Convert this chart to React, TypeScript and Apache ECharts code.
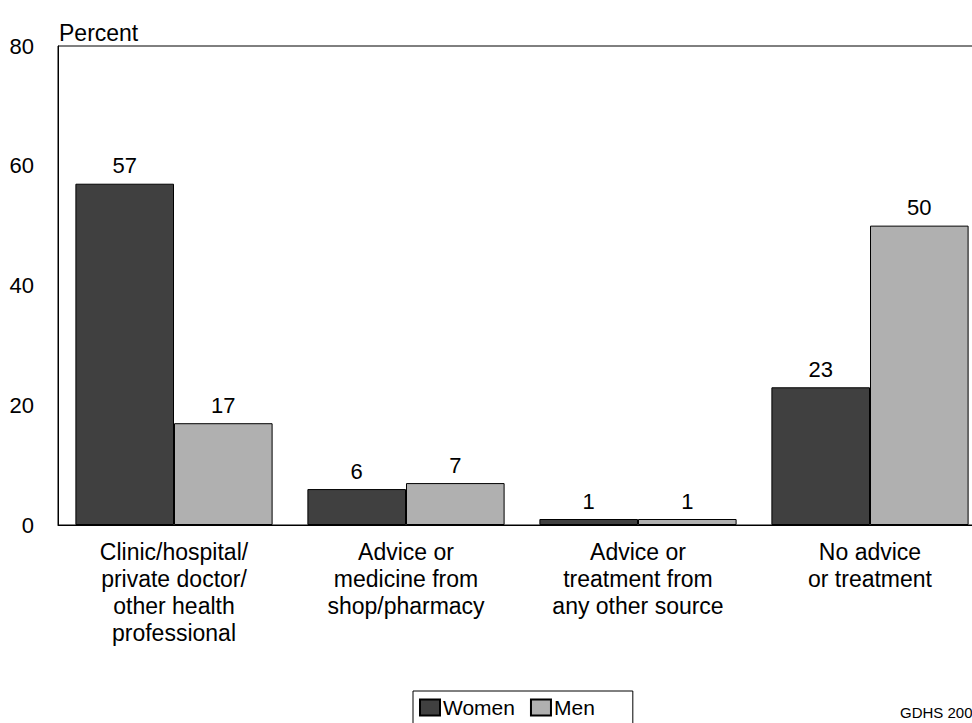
import React, { useEffect, useRef } from "react";
import * as echarts from "echarts";

const categories = [
  "Clinic/hospital/\nprivate doctor/\nother health\nprofessional",
  "Advice or\nmedicine from\nshop/pharmacy",
  "Advice or\ntreatment from\nany other source",
  "No advice\nor treatment",
];
const women = [57, 6, 1, 23];
const men = [17, 7, 1, 50];
const seriesNames = ["Women", "Men"];
const yMin = 0;
const yMax = 80;
const yInterval = 20;
const source = "GDHS 2003";
const yTitle = "Percent";

const FONT = "'Liberation Sans', Arial, Helvetica, sans-serif";

export default function App() {
  const ref = useRef<HTMLDivElement>(null);
  useEffect(() => {
    if (!ref.current) return;
    const chart = echarts.init(ref.current, undefined, { renderer: "svg" });
    const labelCfg = {
      show: true,
      position: "top",
      distance: 7,
      color: "#000",
      fontSize: 22,
      fontFamily: FONT,
    };
    chart.setOption({
      animation: false,
      backgroundColor: "#fff",
      textStyle: { fontFamily: FONT, color: "#000" },
      title: {
        text: yTitle,
        left: 59,
        top: 21,
        padding: 0,
        textStyle: { fontSize: 23, fontWeight: "normal", color: "#000", fontFamily: FONT },
      },
      grid: {
        left: 58,
        top: 46,
        width: 928,
        height: 479,
        show: true,
        borderColor: "#000",
        borderWidth: 1,
        backgroundColor: "transparent",
        containLabel: false,
        outerBoundsMode: "none",
      },
      legend: {
        left: 413,
        top: 691,
        orient: "horizontal",
        borderColor: "#000",
        borderWidth: 1,
        padding: [6, 38, 10, 6],
        itemWidth: 20,
        itemHeight: 16,
        itemGap: 15,
        icon: "rect",
        textStyle: { fontSize: 21, color: "#000", fontFamily: FONT, padding: [0, 0, 0, -2] },
        data: seriesNames,
      },
      xAxis: {
        type: "category",
        data: categories,
        axisLine: { show: true, lineStyle: { color: "#000", width: 1 } },
        axisTick: { show: false },
        axisLabel: {
          interval: 0,
          margin: 13,
          fontSize: 23,
          lineHeight: 27,
          color: "#000",
          fontFamily: FONT,
        },
        splitLine: { show: false },
      },
      yAxis: {
        type: "value",
        min: yMin,
        max: yMax,
        interval: yInterval,
        axisLine: { show: true, lineStyle: { color: "#000", width: 1 } },
        axisTick: { show: false },
        axisLabel: { margin: 24, fontSize: 22, color: "#000", fontFamily: FONT },
        splitLine: { show: false },
      },
      series: [
        {
          name: seriesNames[0],
          type: "bar",
          data: women,
          barGap: "0%",
          barCategoryGap: "15%",
          itemStyle: { color: "#404040", borderColor: "#000", borderWidth: 1 },
          label: labelCfg,
        },
        {
          name: seriesNames[1],
          type: "bar",
          data: men,
          barGap: "0%",
          barCategoryGap: "15%",
          itemStyle: { color: "#b0b0b0", borderColor: "#000", borderWidth: 1 },
          label: labelCfg,
        },
      ],
      graphic: [
        {
          type: "text",
          left: 900,
          top: 705,
          style: { text: source, fontSize: 15, fill: "#000", fontFamily: FONT },
        },
      ],
    });
    return () => chart.dispose();
  }, []);
  return (
    <div
      ref={ref}
      style={{ position: "fixed", left: 0, top: 0, width: 972, height: 723 }}
    />
  );
}
